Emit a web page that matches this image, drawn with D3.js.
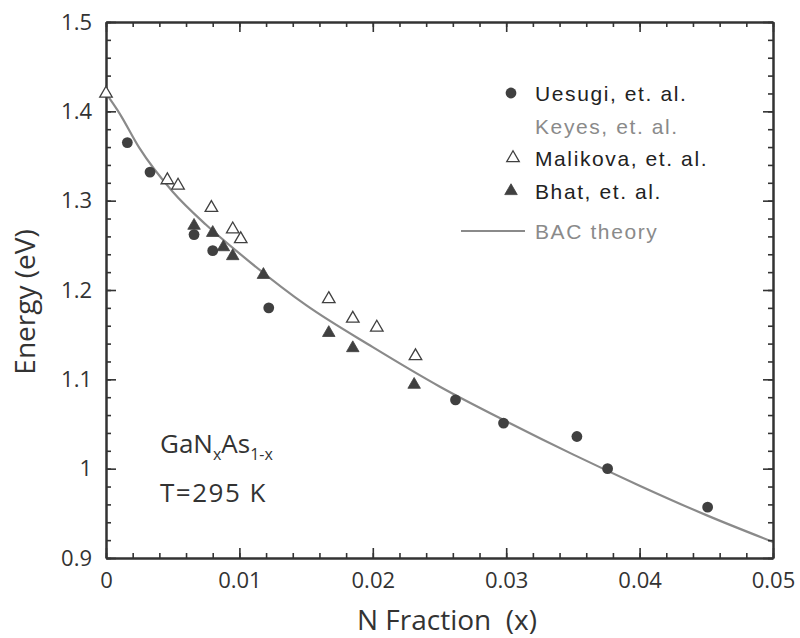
<!DOCTYPE html>
<html><head><meta charset="utf-8">
<script src="https://cdn.jsdelivr.net/npm/d3@7"></script>
<style>html,body{margin:0;padding:0;background:#fff;}svg{display:block;}</style>
</head><body>
<svg id="c" width="800" height="638"></svg>
<script>
// ---- data ----
const uesugiX = [0.0016, 0.0033, 0.0066, 0.0080, 0.0122, 0.0262, 0.0298, 0.0353, 0.0376, 0.0451];
const uesugiY = [1.365, 1.332, 1.262, 1.244, 1.180, 1.077, 1.051, 1.036, 1.000, 0.957];
const keyesX = [];
const keyesY = [];
const malikovaX = [0.0000, 0.0046, 0.0054, 0.0079, 0.0095, 0.0101, 0.0167, 0.0185, 0.0203, 0.0232];
const malikovaY = [1.420, 1.323, 1.317, 1.292, 1.268, 1.257, 1.190, 1.168, 1.158, 1.126];
const bhatX = [0.0066, 0.0080, 0.0088, 0.0095, 0.0118, 0.0167, 0.0185, 0.0231];
const bhatY = [1.272, 1.264, 1.248, 1.238, 1.217, 1.152, 1.135, 1.094];
const bacX = [0.0000, 0.0010, 0.0025, 0.0050, 0.0075, 0.0100, 0.0150, 0.0200, 0.0250, 0.0300, 0.0350, 0.0400, 0.0450, 0.0500];
const bacY = [1.420, 1.398, 1.359, 1.310, 1.273, 1.241, 1.183, 1.136, 1.092, 1.053, 1.016, 0.981, 0.948, 0.918];
const xTicks = [0, 0.01, 0.02, 0.03, 0.04, 0.05];
const xTickLabels = ["0", "0.01", "0.02", "0.03", "0.04", "0.05"];
const yTicks = [0.9, 1.0, 1.1, 1.2, 1.3, 1.4, 1.5];
const yTickLabels = ["0.9", "1", "1.1", "1.2", "1.3", "1.4", "1.5"];
const legendNames = ["Uesugi, et. al.", "Keyes, et. al.", "Malikova, et. al.", "Bhat, et. al.", "BAC theory"];

// ---- layout ----
const L = 106, R = 773, T = 22, B = 558;
const svg = d3.select("#c");
const x = d3.scaleLinear().domain([0, 0.05]).range([L, R]);
const y = d3.scaleLinear().domain([0.9, 1.5]).range([B, T]);
const axisColor = "#333";
const markColor = "#404040";
const font = "'Open Sans', sans-serif";

// BAC curve
const line = d3.line().x(d => x(d[0])).y(d => y(d[1])).curve(d3.curveMonotoneX);
svg.append("path").datum(bacX.map((v, i) => [v, bacY[i]]))
  .attr("d", line).attr("fill", "none").attr("stroke", "#8a8a8a").attr("stroke-width", 2.2);

// Axes with inward ticks
const xMinor = d3.range(0, 0.0501, 0.002);
const yMinor = d3.range(0.9, 1.5001, 0.02);
function styleAxis(g) {
  g.selectAll("path.domain").attr("stroke", axisColor).attr("stroke-width", 2);
  g.selectAll("line").attr("stroke", axisColor).attr("stroke-width", 1.6);
}
// bottom
svg.append("g").attr("transform", `translate(0,${B})`)
  .call(d3.axisBottom(x).tickValues(xMinor).tickSize(-5).tickSizeOuter(0).tickFormat(""))
  .call(styleAxis);
svg.append("g").attr("transform", `translate(0,${B})`)
  .call(d3.axisBottom(x).tickValues(xTicks).tickSize(-10).tickSizeOuter(0).tickPadding(14)
    .tickFormat((d, i) => xTickLabels[i]))
  .call(styleAxis)
  .call(g => g.selectAll("text").attr("font-family", font).attr("font-size", 22).attr("fill", "#333"));
// top
svg.append("g").attr("transform", `translate(0,${T})`)
  .call(d3.axisTop(x).tickValues(xMinor).tickSize(-5).tickSizeOuter(0).tickFormat("")).call(styleAxis);
svg.append("g").attr("transform", `translate(0,${T})`)
  .call(d3.axisTop(x).tickValues(xTicks).tickSize(-10).tickSizeOuter(0).tickFormat("")).call(styleAxis);
// left
svg.append("g").attr("transform", `translate(${L},0)`)
  .call(d3.axisLeft(y).tickValues(yMinor).tickSize(-5).tickSizeOuter(0).tickFormat("")).call(styleAxis);
svg.append("g").attr("transform", `translate(${L},0)`)
  .call(d3.axisLeft(y).tickValues(yTicks).tickSize(-10).tickSizeOuter(0).tickPadding(14)
    .tickFormat((d, i) => yTickLabels[i]))
  .call(styleAxis)
  .call(g => g.selectAll("text").attr("font-family", font).attr("font-size", 22).attr("fill", "#333"));
// right
svg.append("g").attr("transform", `translate(${R},0)`)
  .call(d3.axisRight(y).tickValues(yMinor).tickSize(-5).tickSizeOuter(0).tickFormat("")).call(styleAxis);
svg.append("g").attr("transform", `translate(${R},0)`)
  .call(d3.axisRight(y).tickValues(yTicks).tickSize(-10).tickSizeOuter(0).tickFormat("")).call(styleAxis);

// markers
const tri = d3.symbol().type(d3.symbolTriangle).size(68);
function circles(xs, ys) {
  svg.append("g").selectAll("circle").data(xs).join("circle")
    .attr("cx", d => x(d)).attr("cy", (d, i) => y(ys[i])).attr("r", 5.4).attr("fill", markColor);
}
function triangles(xs, ys, filled) {
  svg.append("g").selectAll("path").data(xs).join("path")
    .attr("d", tri).attr("transform", (d, i) => `translate(${x(d)},${y(ys[i])})`)
    .attr("fill", filled ? markColor : "#fff").attr("stroke", markColor).attr("stroke-width", filled ? 0.8 : 1.3);
}
circles(uesugiX, uesugiY);
circles(keyesX, keyesY);
triangles(bhatX, bhatY, true);
triangles(malikovaX, malikovaY, false);

// legend
const lx = 535, ly = [93, 126, 158, 191, 231];
const lcol = ["#222", "#8a8a8a", "#222", "#222", "#8a8a8a"];
const lg = svg.append("g");
lg.selectAll("text").data(legendNames).join("text")
  .attr("x", lx).attr("y", (d, i) => ly[i]).attr("dy", "0.36em")
  .attr("font-family", "'Liberation Sans', Arial, sans-serif").attr("font-size", 21)
  .attr("letter-spacing", 1.6)
  .attr("fill", (d, i) => lcol[i]).text(d => d);
lg.append("circle").attr("cx", 511).attr("cy", ly[0]).attr("r", 5.4).attr("fill", markColor);
lg.append("path").attr("d", tri).attr("transform", `translate(513,${ly[2]})`)
  .attr("fill", "#fff").attr("stroke", markColor).attr("stroke-width", 1.3);
lg.append("path").attr("d", tri).attr("transform", `translate(511,${ly[3]})`)
  .attr("fill", markColor).attr("stroke", markColor).attr("stroke-width", 0.8);
lg.append("line").attr("x1", 461).attr("x2", 525).attr("y1", ly[4]).attr("y2", ly[4])
  .attr("stroke", "#8a8a8a").attr("stroke-width", 2);

// annotation
const ann = svg.append("text").attr("x", 160).attr("y", 453)
  .attr("font-family", font).attr("font-size", 26).attr("fill", "#333");
ann.append("tspan").text("GaN");
ann.append("tspan").attr("font-size", 16).attr("dy", 7).text("x");
ann.append("tspan").attr("dy", -7).text("As");
ann.append("tspan").attr("font-size", 16).attr("dy", 7).text("1-x");
svg.append("text").attr("x", 160).attr("y", 502)
  .attr("font-family", font).attr("font-size", 26).attr("fill", "#333")
  .attr("letter-spacing", 1.5).text("T=295 K");

// axis titles
svg.append("text").attr("x", 447).attr("y", 630).attr("text-anchor", "middle")
  .attr("font-family", font).attr("font-size", 28).attr("fill", "#333")
  .attr("xml:space", "preserve").text("N Fraction  (x)");
svg.append("text").attr("transform", "translate(35,302) rotate(-90)").attr("text-anchor", "middle")
  .attr("font-family", font).attr("font-size", 28).attr("fill", "#333")
  .text("Energy (eV)");
</script>
</body></html>
